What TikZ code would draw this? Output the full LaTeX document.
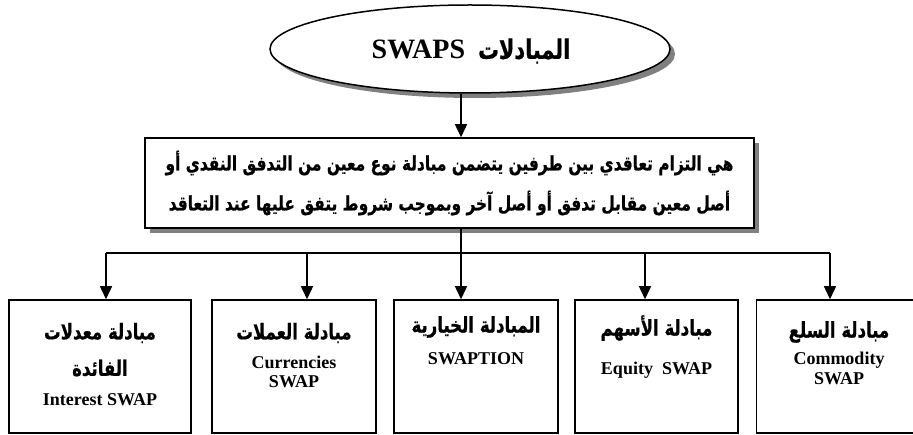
\documentclass[tikz,border=0pt]{standalone}
\usepackage{fontspec}
\setmainfont{Liberation Serif}
\newfontfamily\arabfont[Script=Arabic, FakeStretch=0.77, FakeBold=0.6]{DejaVu Sans Bold}
\TeXXeTstate=1
\usetikzlibrary{shapes.geometric,arrows.meta,shadows,calc}

\tikzset{
  frame/.style={draw=black, line width=1.5pt, fill=white},
  shade box/.style={drop shadow={shadow xshift=5pt, shadow yshift=-5pt, fill=black!50, opacity=1}},
  arr/.style={line width=1.4pt, -{Triangle[width=12pt,length=13pt]}},
  link/.style={line width=1.4pt},
  ar/.style={font=\arabfont\fontsize{20}{24}\selectfont, inner sep=0pt},
  arb/.style={font=\arabfont\fontsize{21.5}{24}\selectfont, inner sep=0pt},
  la/.style={font=\bfseries\fontsize{18}{21}\selectfont, inner sep=0pt},
}

\begin{document}
\begin{tikzpicture}[x=1pt, y=-1pt]
\useasboundingbox (0,0) rectangle (913,435);

% title ellipse
\node[frame, shade box, ellipse, minimum width=400pt, minimum height=88pt] (top) at (470,49) {};
\node[inner sep=0pt] (title) at (471,51)
  {\bfseries\fontsize{28}{32}\selectfont SWAPS\hspace{13pt}{\arabfont\fontsize{27}{30}\selectfont\beginR المبادلات\endR}};

% definition box
\node[frame, shade box, rectangle, minimum width=609pt, minimum height=90pt] (def) at (449.5,183) {};
\node[ar] (def1) at (449.5,163) {\beginR هي التزام تعاقدي بين طرفين يتضمن مبادلة نوع معين من التدفق النقدي أو\endR};
\node[ar] (def2) at (449.5,203) {\beginR أصل معين مقابل تدفق أو أصل آخر وبموجب شروط يتفق عليها عند التعاقد\endR};

% kinds of swaps
\node[frame, minimum width=182pt, minimum height=133pt] (b1) at (100,366.5) {};
\node[frame, minimum width=164pt, minimum height=133pt] (b2) at (294,366.5) {};
\node[frame, minimum width=164pt, minimum height=133pt] (b3) at (476,366.5) {};
\node[frame, minimum width=163pt, minimum height=133pt] (b4) at (656.5,366.5) {};
\node[frame, minimum width=157pt, minimum height=133pt] (b5) at (835,366.5) {};

\node[arb] (b1a) at (100,333) {\beginR مبادلة معدلات\endR};
\node[arb] (b1b) at (100,368) {\beginR الفائدة\endR};
\node[la] (b1c) at (100,400) {Interest SWAP};

\node[arb] (b2a) at (294,333) {\beginR مبادلة  العملات\endR};
\node[la] (b2b) at (294,362) {Currencies};
\node[la] (b2c) at (294,382) {SWAP};

\node[arb] (b3a) at (476,327) {\beginR المبادلة الخيارية\endR};
\node[la] (b3b) at (476,359) {SWAPTION};

\node[arb] (b4a) at (656.5,328) {\beginR مبادلة الأسهم\endR};
\node[la] (b4b) at (656.5,370) {Equity\ \ SWAP};

\node[arb] (b5a) at (839,332) {\beginR مبادلة السلع\endR};
\node[la] (b5b) at (839,360) {Commodity};
\node[la] (b5c) at (839,379) {SWAP};

% connectors
\coordinate (hub) at (461,253);
\draw[arr] (top.south -| hub) -- (def.north -| hub);
\draw[link] (def.south -| hub) -- (hub);
\draw[link] ([xshift=6pt]b1.north |- hub) -- ([xshift=-5pt]b5.north |- hub);
\draw[arr] ([xshift=6pt]b1.north |- hub) -- ([xshift=6pt]b1.north);
\draw[arr] ([xshift=13pt]b2.north |- hub) -- ([xshift=13pt]b2.north);
\draw[arr] (hub) -- ([xshift=-15pt]b3.north);
\draw[arr] ([xshift=-11.5pt]b4.north |- hub) -- ([xshift=-11.5pt]b4.north);
\draw[arr] ([xshift=-5pt]b5.north |- hub) -- ([xshift=-5pt]b5.north);
\end{tikzpicture}
\end{document}
